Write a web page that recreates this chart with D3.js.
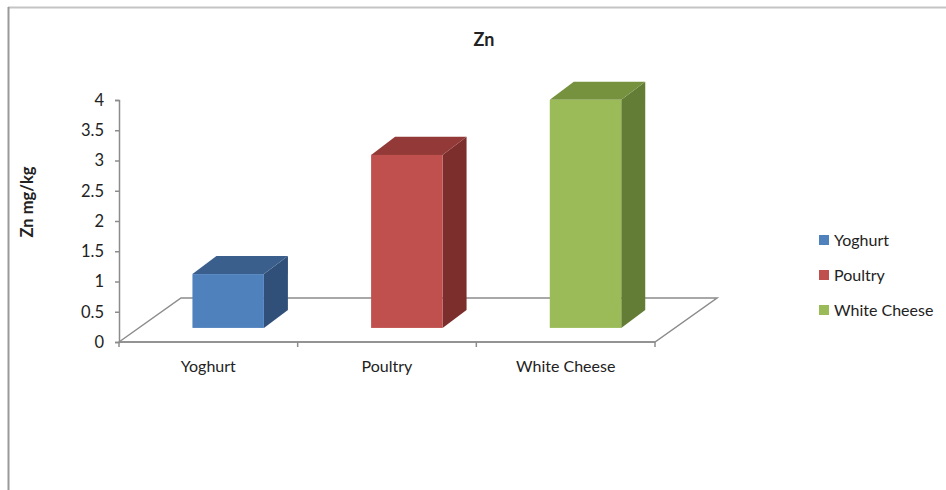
<!DOCTYPE html>
<html>
<head>
<meta charset="utf-8">
<script src="https://cdn.jsdelivr.net/npm/d3@7"></script>
<style>
  html, body { margin: 0; padding: 0; background: #fff; }
  svg { display: block; }
  text { font-family: Lato, "Noto Sans", sans-serif; fill: #222; }
</style>
</head>
<body>
<svg id="chart" width="946" height="490"></svg>
<script>
// Zn content by food type (mg/kg)
const categories = ["Yoghurt", "Poultry", "White Cheese"];
const values = [0.89, 2.86, 3.77];
const yTicks = [0, 0.5, 1, 1.5, 2, 2.5, 3, 3.5, 4];
const frontColors = ["#4F81BD", "#C0504D", "#9BBB59"];
const topColors = ["#3B5F8D", "#933A38", "#76923E"];
const sideColors = ["#30507A", "#7C2E2D", "#637D37"];

const svg = d3.select("#chart");

// plot geometry
const x0 = 119, x1 = 655, yBase = 342, yTop = 100;
const depthX = 62, depthY = -44;      // oblique offset of the floor's back edge
const depthFront = 0.32, depthBack = 0.73; // bar depth span (fraction of floor depth)
const barFrac = 0.4;

const x = d3.scaleBand().domain(categories).range([x0, x1]).padding(0);
const y = d3.scaleLinear().domain([0, 4]).range([yBase, yTop]);

// outer frame
svg.append("line").attr("x1", 8).attr("x2", 946).attr("y1", 7.5).attr("y2", 7.5)
  .attr("stroke", "#c4c4c4").attr("stroke-width", 2);
svg.append("line").attr("x1", 8.5).attr("x2", 8.5).attr("y1", 7).attr("y2", 490)
  .attr("stroke", "#9a9a9a").attr("stroke-width", 2);

// title
svg.append("text").attr("x", 484).attr("y", 46).attr("text-anchor", "middle")
  .attr("font-size", 18).attr("font-weight", "bold").text("Zn");

// y-axis title
svg.append("text").attr("transform", "translate(33,202) rotate(-90)")
  .attr("text-anchor", "middle").attr("font-size", 16.5).attr("font-weight", "bold")
  .text("Zn mg/kg");

// floor outline
const floor = svg.append("g").attr("fill", "none").attr("stroke", "#8c8c8c").attr("stroke-width", 1.5);
floor.append("path").attr("d",
  `M${x0},${yBase} L${x0 + depthX},${yBase + depthY} L${x1 + depthX},${yBase + depthY} L${x1},${yBase} Z`);

// y axis
const yAxis = d3.axisLeft(y).tickValues(yTicks).tickSize(4).tickPadding(11)
  .tickFormat(d3.format("~g"));
const ya = svg.append("g").attr("transform", `translate(${x0},0)`).call(yAxis);
ya.select(".domain").attr("stroke", "#8c8c8c").attr("stroke-width", 1.5);
ya.selectAll(".tick line").attr("stroke", "#8c8c8c").attr("stroke-width", 1.5);
ya.selectAll(".tick text").attr("font-size", 16.5).attr("fill", "#222")
  .style("font-family", "Lato, 'Noto Sans', sans-serif");

// x axis (front floor edge with category boundary ticks)
const xa = svg.append("g");
xa.append("line").attr("x1", x0).attr("x2", x1).attr("y1", yBase).attr("y2", yBase)
  .attr("stroke", "#8c8c8c").attr("stroke-width", 1.5);
const bounds = categories.map(c => x(c)).concat([x1]);
xa.selectAll("line.tk").data(bounds).join("line").attr("class", "tk")
  .attr("x1", d => d).attr("x2", d => d).attr("y1", yBase).attr("y2", yBase + 5)
  .attr("stroke", "#8c8c8c").attr("stroke-width", 1.5);
xa.selectAll("text").data(categories).join("text")
  .attr("x", d => x(d) + x.bandwidth() / 2).attr("y", 372)
  .attr("text-anchor", "middle").attr("font-size", 16).text(d => d);

// 3D columns
const bars = svg.append("g");
categories.forEach((c, i) => {
  const w = x.bandwidth() * barFrac;
  const fx = x(c) + x.bandwidth() / 2 - w / 2 + depthX * depthFront;
  const by = yBase + depthY * depthFront;
  const h = yBase - y(values[i]);
  const ty = by - h;
  const ddx = 24, ddy = depthY * (depthBack - depthFront);
  const g = bars.append("g");
  // side face
  g.append("path").attr("fill", sideColors[i]).attr("d",
    `M${fx + w},${by} L${fx + w + ddx},${by + ddy} L${fx + w + ddx},${ty + ddy} L${fx + w},${ty} Z`);
  // top face
  g.append("path").attr("fill", topColors[i]).attr("d",
    `M${fx},${ty} L${fx + ddx},${ty + ddy} L${fx + w + ddx},${ty + ddy} L${fx + w},${ty} Z`);
  // front face
  g.append("rect").attr("x", fx).attr("y", ty).attr("width", w).attr("height", h)
    .attr("fill", frontColors[i]);
});

// legend
const legend = svg.append("g").attr("transform", "translate(819,240)");
categories.forEach((c, i) => {
  const row = legend.append("g").attr("transform", `translate(0,${i * 35})`);
  row.append("rect").attr("x", 0).attr("y", -5).attr("width", 10).attr("height", 10)
    .attr("fill", frontColors[i]);
  row.append("text").attr("x", 15).attr("y", 6).attr("font-size", 16).text(c);
});
</script>
</body>
</html>
